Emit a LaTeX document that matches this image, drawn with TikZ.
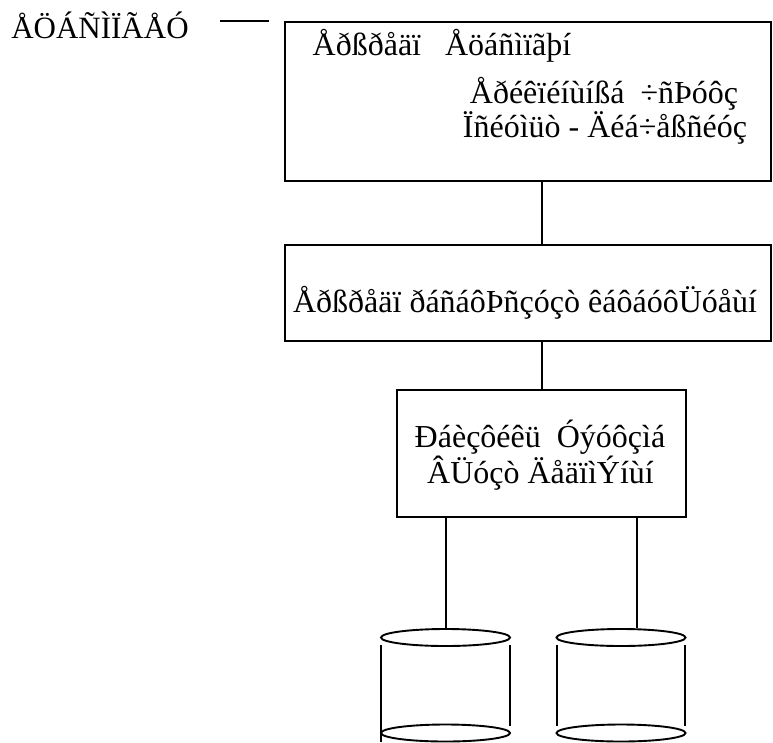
\documentclass[tikz,border=0pt]{standalone}
\usepackage{fontspec}
\setmainfont{Liberation Serif}
\usetikzlibrary{shapes.geometric}
\begin{document}
\begin{tikzpicture}[x=1pt,y=-1pt,
  box/.style={draw, line width=2.2pt, inner sep=0pt},
  txt/.style={inner sep=0pt, anchor=base, font=\fontsize{32}{38}\selectfont},
  link/.style={line width=2.2pt},
  disk/.style={draw, ellipse, line width=1.9pt, inner sep=0pt,
               minimum width=129pt, minimum height=17pt},
  side/.style={line width=1.9pt}]
\useasboundingbox (0,0) rectangle (773,742);

% title and its rule
\node[txt, font=\fontsize{31}{37}\selectfont] (title) at (100,38) {ÅÖÁÑÌÏÃÅÓ};
\coordinate (ruleA) at (220,21);
\coordinate (ruleB) at (269,21);
\draw[link] (ruleA) -- (ruleB);

% application layer
\node[box, minimum width=486pt, minimum height=159pt] (app) at (528,101.5) {};
\node[txt] (appA) at (442,55) {Åðßðåäï\ \ \ Åöáñìïãþí};
\node[txt] (appB) at (604,103) {Åðéêïéíùíßá\ \ ÷ñÞóôç};
\node[txt] (appC) at (605,137) {Ïñéóìüò - Äéá÷åßñéóç};

% logical layer
\node[box, minimum width=486pt, minimum height=96pt] (log) at (528,293) {};
\node[txt] (logA) at (525,312) {Åðßðåäï ðáñáôÞñçóçò êáôáóôÜóåùí};

% physical layer
\node[box, minimum width=289pt, minimum height=127pt] (phy) at (541.5,453.5) {};
\node[txt] (phyA) at (540,447) {Ðáèçôéêü\ \ Óýóôçìá};
\node[txt] (phyB) at (540.5,483) {ÂÜóçò ÄåäïìÝíùí};

% connectors between layers
\draw[link] (app.south -| 541.7,0) -- (log.north -| 541.7,0);
\draw[link] (log.south -| 541.7,0) -- (phy.north -| 541.7,0);

% disks
\node[disk] (cylA) at (445.5,637.5) {};
\node[disk] (cylB) at (621,637.5) {};
\node[disk] (cylAb) at (445.5,733) {};
\node[disk] (cylBb) at (621,733) {};
\draw[side] (381,645) -- (381,742);
\draw[side] (510,645) -- (510,726);
\draw[side] (557,645) -- (557,726);
\draw[side] (685,645) -- (685,726);

\coordinate (dropA) at (445.7,517);
\coordinate (dropB) at (637,517);
\draw[link] (dropA) -- (dropA |- cylA.north);
\draw[link] (dropB) -- (dropB |- cylB.north);
\end{tikzpicture}
\end{document}
